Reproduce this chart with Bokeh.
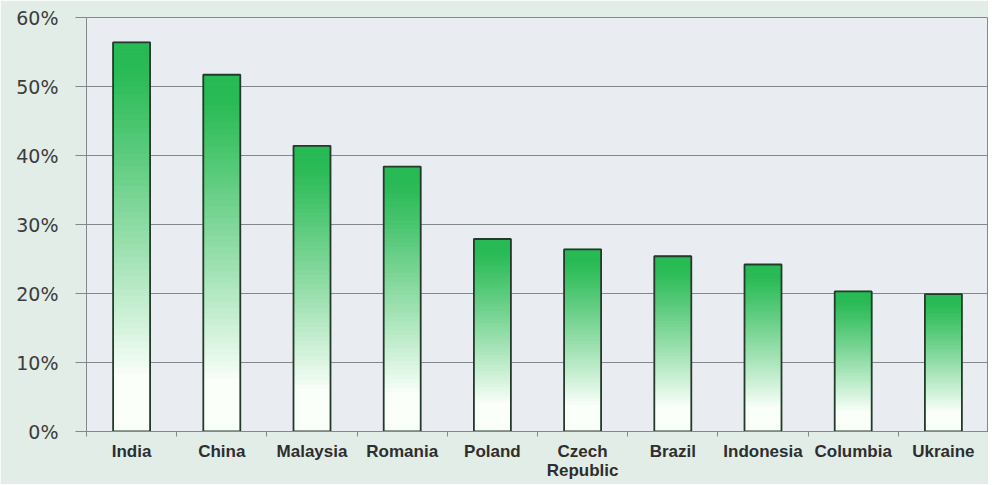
from bokeh.plotting import figure
from bokeh.models import FixedTicker, ColumnDataSource, NumeralTickFormatter
from bokeh.embed import file_html
from bokeh.resources import INLINE

countries = ["India", "China", "Malaysia", "Romania", "Poland", "Czech Republic",
             "Brazil", "Indonesia", "Columbia", "Ukraine"]
tick_labels = ["India", "China", "Malaysia", "Romania", "Poland", "Czech\nRepublic",
               "Brazil", "Indonesia", "Columbia", "Ukraine"]
values = [0.564, 0.517, 0.414, 0.384, 0.279, 0.264, 0.254, 0.242, 0.203, 0.199]
y_ticks = [0.0, 0.1, 0.2, 0.3, 0.4, 0.5, 0.6]

GREEN = (40, 186, 84)
WHITE = (250, 255, 250)
N = 60
BAR_W = 0.41


def grad_color(t):
    # t: 0 at top of the bar, 1 at bottom
    f = (t - 0.06) / 0.8
    f = min(1.0, max(0.0, f))
    f = f ** 1.1
    c = [int(round(g + (w - g) * f)) for g, w in zip(GREEN, WHITE)]
    return "#%02x%02x%02x" % tuple(c)


xs, bottoms, tops, colors = [], [], [], []
for i, v in enumerate(values):
    for k in range(N):
        xs.append(i + 0.5)
        bottoms.append(v * k / N)
        tops.append(v * (k + 1) / N)
        colors.append(grad_color(1 - (k + 0.5) / N))

slices = ColumnDataSource(dict(x=xs, bottom=bottoms, top=tops, color=colors))
bars = ColumnDataSource(dict(x=[i + 0.5 for i in range(len(values))], top=values))

p = figure(width=988, height=484, output_backend="svg", toolbar_location=None,
           x_range=(0, len(countries)), y_range=(0, 0.6),
           min_border_left=86, min_border_right=0, min_border_top=17, min_border_bottom=53)
p.frame_width = 902
p.frame_height = 414

p.background_fill_color = "#e9ecf0"
p.border_fill_color = "#e2ede7"
p.outline_line_color = "#83888c"

p.vbar(x="x", bottom="bottom", top="top", width=BAR_W, source=slices,
       fill_color="color", line_color="color", line_width=1)
p.vbar(x="x", top="top", width=BAR_W, source=bars, fill_color=None,
       line_color="#243a2b", line_width=1.8)

p.xgrid.visible = False
p.ygrid.grid_line_color = "#83888c"
p.ygrid.grid_line_width = 1.2
p.ygrid.ticker = FixedTicker(ticks=y_ticks)

p.yaxis.ticker = FixedTicker(ticks=y_ticks)
p.yaxis.formatter = NumeralTickFormatter(format="0%")
p.yaxis.major_label_text_font = "DejaVu Sans"
p.yaxis.major_label_text_font_size = "19px"
p.yaxis.major_label_text_color = "#3c3c3c"
p.yaxis.axis_line_color = "#83888c"
p.yaxis.major_tick_line_color = "#83888c"
p.yaxis.major_tick_line_width = 1.2
p.yaxis.major_tick_out = 11
p.yaxis.major_tick_in = 0
p.yaxis.minor_tick_line_color = None
p.yaxis.major_label_standoff = 17

p.xaxis.ticker = FixedTicker(ticks=[i + 0.5 for i in range(len(countries))],
                             minor_ticks=list(range(len(countries) + 1)))
p.xaxis.major_label_overrides = {i + 0.5: lab for i, lab in enumerate(tick_labels)}
p.xaxis.major_label_text_font = "Liberation Sans"
p.xaxis.major_label_text_font_style = "bold"
p.xaxis.major_label_text_font_size = "17px"
p.xaxis.major_label_text_line_height = 1.0
p.xaxis.major_label_text_color = "#2e2e2e"
p.xaxis.major_tick_line_color = None
p.xaxis.major_tick_out = 0
p.xaxis.minor_tick_line_color = "#83888c"
p.xaxis.minor_tick_out = 5
p.xaxis.minor_tick_in = 0
p.xaxis.axis_line_color = "#83888c"
p.xaxis.axis_line_width = 1.2
p.xaxis.major_label_standoff = 5

open("out.html", "w").write(file_html(p, INLINE))
